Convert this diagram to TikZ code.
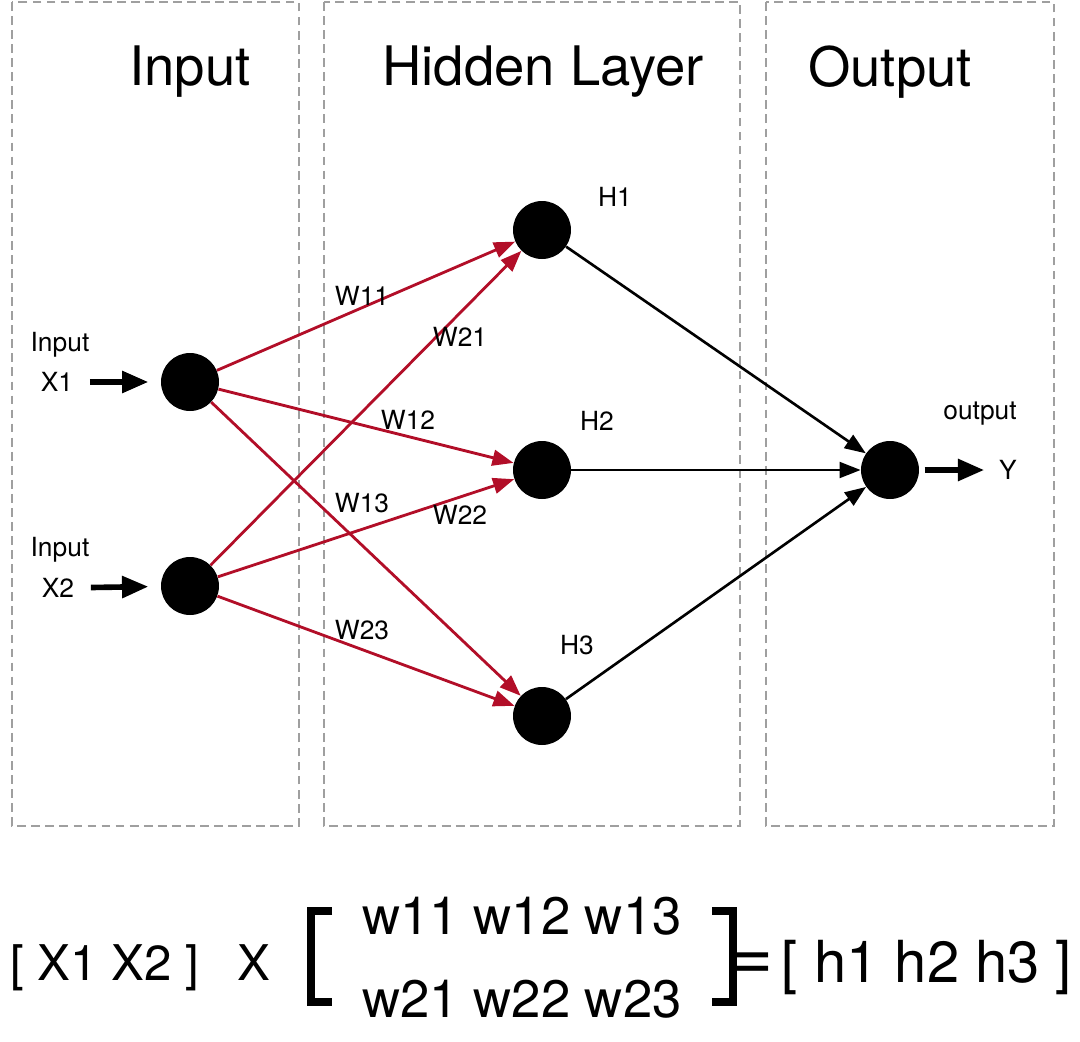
\documentclass[tikz,border=0pt]{standalone}
\usepackage{fontspec}
\setmainfont{TeX Gyre Heros}
\usetikzlibrary{arrows.meta,positioning}
\definecolor{wred}{RGB}{178,14,40}

\begin{document}
\begin{tikzpicture}[
  x=0.02cm, y=-0.02cm,
  every node/.style={font=\fontsize{15}{17}\selectfont, align=center},
  neuron/.style={circle, fill=black, minimum size=1.16cm, inner sep=0pt},
  layerbox/.style={draw=gray!75, dash pattern=on 5pt off 3pt, line width=0.6pt},
  title/.style={font=\fontsize{31}{35}\selectfont},
  eqn/.style={font=\fontsize{28}{32}\selectfont, anchor=base, inner sep=0pt},
  wedge/.style={-{Triangle[length=12pt,width=9pt]}, draw=wred, line width=1.6pt},
  hedge/.style={-{Triangle[length=12pt,width=9pt]}, line width=1.5pt},
  inarrow/.style={-{Triangle[length=15pt,width=12pt]}, line width=3.2pt},
  bracket/.style={line width=4.5pt, line join=miter}
]
\useasboundingbox (0,0) rectangle (1080,1042);

% Layer frames
\draw[layerbox] (12,2) rectangle (299,826);
\draw[layerbox] (324,2) rectangle (740,826);
\draw[layerbox] (766,2) rectangle (1054,826);
\node[title] (tin)  at (190,72) {Input};
\node[title] (thid) at (543,72) {Hidden Layer};
\node[title] (tout) at (890,72) {Output};

% Neurons
\node[neuron] (x1) at (190,382) {};
\node[neuron] (x2) at (190,586) {};
\node[neuron] (h1) at (542,230) {};
\node[neuron] (h2) at (542,470) {};
\node[neuron] (h3) at (542,716) {};
\node[neuron] (y)  at (890,470) {};

% Input / output labels
\node (in1) at (60,345) {Input};
\node (x1lbl) at (57,382) {X1};
\node (in2) at (60,550) {Input};
\node (x2lbl) at (58,588) {X2};
\node (h1lbl) at (615,197) {H1};
\node (h2lbl) at (597,421) {H2};
\node (h3lbl) at (577,645) {H3};
\node (outlbl) at (980,414) {output};
\node (ylbl) at (1008,470) {Y};

\draw[inarrow, shorten <=6pt, shorten >=7pt] (x1lbl) -- (x1);
\draw[inarrow, shorten <=6pt, shorten >=7pt] (x2lbl) -- (x2);
\draw[inarrow, shorten <=3pt, shorten >=5pt] (y) -- (ylbl);

% Weighted connections
\draw[wedge] (x1) -- (h1);
\draw[wedge] (x1) -- (h2);
\draw[wedge] (x1) -- (h3);
\draw[wedge] (x2) -- (h1);
\draw[wedge] (x2) -- (h2);
\draw[wedge] (x2) -- (h3);
\node (w11) at (362,296) {W11};
\node (w21) at (460,337) {W21};
\node (w12) at (408,420) {W12};
\node (w13) at (362,503) {W13};
\node (w22) at (460,515) {W22};
\node (w23) at (362,630) {W23};

\draw[hedge] (h1) -- (y);
\draw[hedge] (h2) -- (y);
\draw[hedge] (h3) -- (y);

% Matrix product
\node[eqn] (xvec) at (105,980) {[ X1 X2 ]};
\node[eqn] (times) at (254,980) {X};
\node[eqn, font=\fontsize{30}{34}\selectfont] (row1) at (522,934) {w11 w12 w13};
\node[eqn, font=\fontsize{30}{34}\selectfont] (row2) at (522,1017) {w21 w22 w23};
\draw[bracket] (332,911) -- (311,911) -- (311,1002) -- (332,1002);
\draw[bracket] (712,911) -- (733,911) -- (733,1002) -- (712,1002);
\node[eqn, font=\fontsize{42}{46}\selectfont] (eq) at (752,980) {=};
\node[eqn, font=\fontsize{33}{37}\selectfont] (hvec) at (927,982) {[ h1 h2 h3 ]};
\end{tikzpicture}
\end{document}
